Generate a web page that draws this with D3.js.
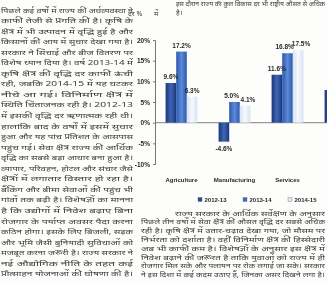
<!DOCTYPE html>
<html><head><meta charset="utf-8">
<script src="https://cdn.jsdelivr.net/npm/d3@7/dist/d3.min.js"></script>
<style>
html,body{margin:0;padding:0;background:#fdfdfb;}
svg{display:block;filter:blur(0.45px);}
</style></head>
<body>
<script>
const categories = ["Agriculture", "Manufacturing", "Services", "Total"];
const seriesNames = ["2012-13", "2013-14", "2014-15"];
const s2012 = [9.6, -4.6, 11.6, 7.9];
const s2013 = [17.2, 5.0, 16.8, 10.1];
const s2014 = [6.3, 4.1, 17.5, 10.4];
const yTicks = [-10, -5, 0, 5, 10, 15, 20];

const leftLines = [
 "पिछले कई वर्षों में राज्य की अर्थव्यवस्था ने",
 "काफी तेजी से प्रगति की है। कृषि के",
 "क्षेत्र में भी उत्पादन में वृद्धि हुई है और",
 "किसानों की आय में सुधार देखा गया है।",
 "सरकार ने सिंचाई और बीज वितरण पर",
 "विशेष ध्यान दिया है। वर्ष 2013-14 में",
 "कृषि क्षेत्र की वृद्धि दर काफी ऊंची",
 "रही, जबकि 2014-15 में यह घटकर",
 "नीचे आ गई। विनिर्माण क्षेत्र में",
 "स्थिति चिंताजनक रही है। 2012-13",
 "में इसकी वृद्धि दर ऋणात्मक रही थी।",
 "हालांकि बाद के वर्षों में इसमें सुधार",
 "हुआ और यह पांच प्रतिशत के आसपास",
 "पहुंच गई। सेवा क्षेत्र राज्य की आर्थिक",
 "वृद्धि का सबसे बड़ा आधार बना हुआ है।",
 "व्यापार, परिवहन, होटल और संचार जैसे",
 "क्षेत्रों में लगातार विस्तार हो रहा है।",
 "बैंकिंग और बीमा सेवाओं की पहुंच भी",
 "गांवों तक बढ़ी है। विशेषज्ञों का मानना",
 "है कि उद्योगों में निवेश बढ़ाए बिना",
 "रोजगार के पर्याप्त अवसर पैदा करना",
 "कठिन होगा। इसके लिए बिजली, सड़क",
 "और भूमि जैसी बुनियादी सुविधाओं को",
 "मजबूत करना जरूरी है। राज्य सरकार ने",
 "नई औद्योगिक नीति के तहत कई",
 "प्रोत्साहन योजनाओं की घोषणा की है।"
];
const bottomLines = [
 "राज्य सरकार के आर्थिक सर्वेक्षण के अनुसार",
 "पिछले तीन वर्षों में सेवा क्षेत्र की औसत वृद्धि दर सबसे अधिक",
 "रही है। कृषि क्षेत्र में उतार-चढ़ाव देखा गया, जो मौसम पर",
 "निर्भरता को दर्शाता है। वहीं विनिर्माण क्षेत्र की हिस्सेदारी",
 "अब भी काफी कम है। विशेषज्ञों के अनुसार इस क्षेत्र में",
 "निवेश बढ़ाने की जरूरत है ताकि युवाओं को राज्य में ही",
 "रोजगार मिल सके और पलायन पर रोक लगाई जा सके। सरकार",
 "ने इस दिशा में कई कदम उठाए हैं, जिनका असर दिखने लगा है।"
];
const topLine = "इस दौरान राज्य की कुल विकास दर भी राष्ट्रीय औसत से अधिक";

const W = 327, H = 282;
const svg = d3.select("body").append("svg").attr("width", W).attr("height", H);
const hindiFont = "'Noto Sans', 'Noto Sans Devanagari', 'Lohit Devanagari', sans-serif";
const latin = "'Liberation Sans', Arial, sans-serif";

// ---- Text blocks ----
const txt = svg.append("g").attr("fill", "#3a3a3a").style("font-family", hindiFont).style("font-size", "7px");
leftLines.forEach((l, i) => {
  txt.append("text").attr("x", 1).attr("y", 12.5 + i * 10.55).text(l)
    .attr("textLength", 132).attr("lengthAdjust", "spacingAndGlyphs");
});
bottomLines.forEach((l, i) => {
  const xs = i === 0 ? 175 : 141;
  txt.append("text").attr("x", xs).attr("y", 215.5 + i * 8.8).text(l)
    .attr("textLength", 325 - xs).attr("lengthAdjust", "spacingAndGlyphs");
});
txt.append("text").attr("x", 176).attr("y", 5.5).style("font-size", "6px").text(topLine)
  .attr("textLength", 149).attr("lengthAdjust", "spacingAndGlyphs");
txt.append("text").attr("x", 176).attr("y", 15).text("है।");
txt.append("text").attr("x", 128).attr("y", 16).text("दर %");
txt.append("text").attr("x", 154).attr("y", 16).text("में");

// ---- Chart ----
const y = d3.scaleLinear().domain([-10, 20]).range([164, 40]);
const x0 = d3.scaleBand().domain(categories).range([155, 367]).paddingInner(0.4).paddingOuter(0.2);
const x1 = d3.scaleBand().domain(seriesNames).range([0, x0.bandwidth()]);

const defs = svg.append("defs");
const grads = [
  ["#1d3577", "#3e66b8", "#1d3577"],
  ["#2c58ad", "#5c8ad6", "#2c58ad"],
  ["#d6e2f4", "#f7f9fd", "#d6e2f4"]
];
grads.forEach((g, i) => {
  const lg = defs.append("linearGradient").attr("id", "g" + i).attr("x1", "0").attr("x2", "1").attr("y1", "0").attr("y2", "0");
  lg.append("stop").attr("offset", "0%").attr("stop-color", g[0]);
  lg.append("stop").attr("offset", "50%").attr("stop-color", g[1]);
  lg.append("stop").attr("offset", "100%").attr("stop-color", g[2]);
});
const color = d3.scaleOrdinal().domain(seriesNames).range(["url(#g0)", "url(#g1)", "url(#g2)"]);
const swatch = d3.scaleOrdinal().domain(seriesNames).range(["#2a4c98", "#3e6cc0", "#dfe8f6"]);

const rows = categories.map((c, i) => ({cat: c, vals: [s2012[i], s2013[i], s2014[i]]}));

// zero line
svg.append("line").attr("x1", 155).attr("x2", W)
  .attr("y1", y(0)).attr("y2", y(0)).attr("stroke", "#9a9a9a").attr("stroke-width", 1.2);

const groups = svg.append("g").selectAll("g").data(rows).join("g")
  .attr("transform", d => `translate(${x0(d.cat)},0)`);
groups.selectAll("rect").data(d => d.vals.map((v, j) => ({s: seriesNames[j], v}))).join("rect")
  .attr("x", d => x1(d.s)).attr("width", x1.bandwidth())
  .attr("y", d => y(Math.max(0, d.v))).attr("height", d => Math.abs(y(d.v) - y(0)))
  .attr("fill", d => color(d.s));

// value labels with simple collision avoidance (only those inside the visible area)
const labels = [];
rows.forEach(r => r.vals.forEach((v, j) => {
  labels.push({
    v, cx: x0(r.cat) + x1(seriesNames[j]) + x1.bandwidth() / 2,
    y: v >= 0 ? y(v) - 4 : y(v) + 9
  });
}));
const lw = 16, lh = 7;
for (let it = 0; it < 30; it++) {
  for (let a = 0; a < labels.length; a++) for (let b = a + 1; b < labels.length; b++) {
    const A = labels[a], B = labels[b];
    if (Math.abs(A.y - B.y) < lh && Math.abs(A.cx - B.cx) < lw) {
      const push = (lw - Math.abs(A.cx - B.cx)) / 2 + 0.2;
      if (A.cx <= B.cx) { A.cx -= push; B.cx += push; } else { A.cx += push; B.cx -= push; }
    }
  }
}
svg.append("g").selectAll("text").data(labels.filter(d => d.cx + lw / 2 <= W)).join("text")
  .attr("x", d => d.cx).attr("y", d => d.y).attr("text-anchor", "middle")
  .style("font-family", latin).style("font-size", "6.5px")
  .style("font-weight", "bold").attr("fill", "#2a2a2a")
  .text(d => d.v.toFixed(1) + "%");

// y axis
const ax = svg.append("g").attr("transform", "translate(155,0)")
  .call(d3.axisLeft(y).tickValues(yTicks).tickFormat(d => d + "%").tickSize(2).tickPadding(3));
ax.select(".domain").attr("stroke", "#777");
ax.selectAll(".tick line").attr("stroke", "#777");
ax.selectAll("text").style("font-family", latin)
  .style("font-size", "6.5px").style("font-weight", "bold").attr("fill", "#2a2a2a");

// category labels (those inside the visible area)
svg.append("g").selectAll("text").data(categories.filter(c => x0(c) + x0.bandwidth() <= W)).join("text")
  .attr("x", d => x0(d) + x0.bandwidth() / 2).attr("y", 182).attr("text-anchor", "middle")
  .style("font-family", latin).style("font-size", "6px")
  .style("font-weight", "bold").attr("fill", "#2a2a2a").text(d => d);

// legend
const lg = svg.append("g").selectAll("g").data(seriesNames).join("g")
  .attr("transform", (d, i) => `translate(${198 + i * 45},200)`);
lg.append("rect").attr("x", 0).attr("y", -2.5).attr("width", 4).attr("height", 4)
  .attr("fill", d => swatch(d)).attr("stroke", "#555").attr("stroke-width", 0.3);
lg.append("text").attr("x", 6.5).attr("y", 2.2)
  .style("font-family", latin).style("font-size", "6px")
  .style("font-weight", "bold").attr("fill", "#2a2a2a").text(d => d);
</script>
</body></html>
